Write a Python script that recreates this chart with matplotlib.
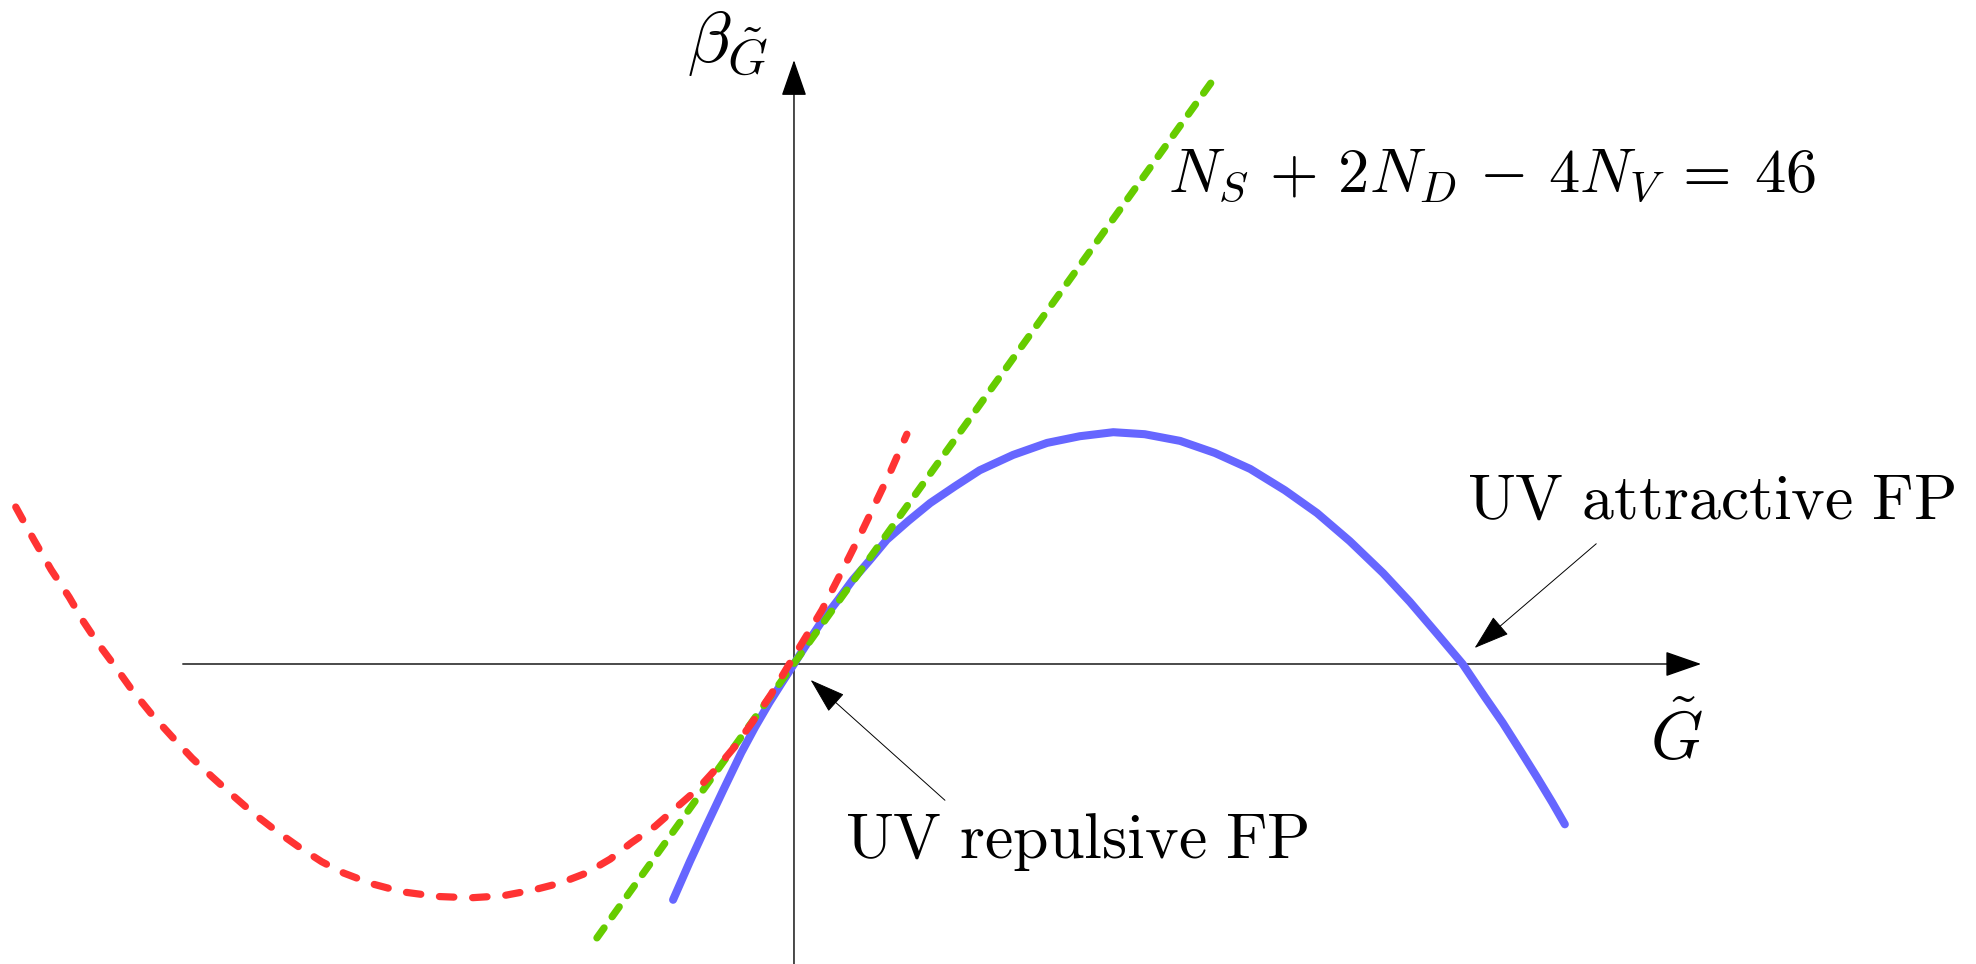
import matplotlib
matplotlib.use('Agg')
import matplotlib.pyplot as plt

plt.rcParams['mathtext.fontset'] = 'cm'

# G~ in units of the UV attractive fixed point (same scale on both axes)
# full beta function (solid blue)
beta_g = [-0.181, -0.156, -0.132, -0.106, -0.079, -0.058, -0.037, -0.018, 0.0, 0.021,
          0.043, 0.066, 0.088, 0.114, 0.139, 0.171, 0.204, 0.241, 0.278, 0.328,
          0.379, 0.428, 0.478, 0.525, 0.578, 0.630, 0.683, 0.735, 0.783, 0.832,
          0.882, 0.922, 0.963, 1.001, 1.034, 1.061, 1.087, 1.112, 1.135, 1.154]
beta_v = [-0.353, -0.296, -0.244, -0.189, -0.133, -0.094, -0.058, -0.028, 0.0, 0.033,
          0.066, 0.096, 0.126, 0.156, 0.186, 0.214, 0.241, 0.266, 0.290, 0.313,
          0.331, 0.341, 0.347, 0.344, 0.334, 0.316, 0.292, 0.260, 0.226, 0.184,
          0.136, 0.093, 0.045, 0.0, -0.049, -0.088, -0.129, -0.169, -0.207, -0.240]

# linear approximation, N_S + 2N_D - 4N_V = 46 (green dashed)
lin_g = [-0.295, 0.635]
lin_v = [-0.410, 0.885]

# red dashed approximation
red_g = [-1.165, -1.138, -1.112, -1.085, -1.064, -1.042, -1.016, -0.991, -0.961, -0.931,
         -0.901, -0.871, -0.841, -0.810, -0.775, -0.741, -0.707, -0.674, -0.632, -0.587,
         -0.534, -0.484, -0.436, -0.389, -0.350, -0.311, -0.275, -0.244, -0.208, -0.175,
         -0.144, -0.114, -0.088, -0.063, -0.034, -0.007, 0.021, 0.042, 0.061, 0.082,
         0.102, 0.123, 0.144, 0.169]
red_v = [0.235, 0.186, 0.141, 0.100, 0.064, 0.031, -0.004, -0.039, -0.076, -0.109,
         -0.141, -0.169, -0.196, -0.223, -0.250, -0.274, -0.296, -0.313, -0.329, -0.341,
         -0.348, -0.350, -0.347, -0.338, -0.328, -0.313, -0.292, -0.268, -0.243, -0.214,
         -0.187, -0.154, -0.123, -0.088, -0.045, 0.0, 0.046, 0.081, 0.118, 0.159,
         0.199, 0.243, 0.287, 0.344]

fig = plt.figure(figsize=(19.76, 9.64), dpi=100)
ax = fig.add_axes([0, 0, 1, 1])
ax.set_xlim(-1.1886, 1.7695)
ax.set_ylim(-0.4491, 0.9940)
ax.axis('off')

# coordinate axes with arrow heads
axis_style = dict(arrowstyle='-|>,head_length=2.3,head_width=0.8', color='black',
                  lw=1.0, shrinkA=0, shrinkB=0, mutation_scale=10)
ax.annotate('', xy=(1.358, 0), xytext=(-0.915, 0), arrowprops=axis_style)
ax.annotate('', xy=(0, 0.904), xytext=(0, -0.449), arrowprops=axis_style)

ax.plot(beta_g, beta_v, color='#6666ff', lw=5.8, solid_capstyle='round',
        solid_joinstyle='round', zorder=3)
ax.plot(lin_g, lin_v, color='#66cc00', lw=5.2, dashes=(1.7, 1.9),
        dash_capstyle='round', zorder=4)
ax.plot(red_g, red_v, color='#ff3333', lw=5.2, dashes=(2.0, 2.6),
        dash_capstyle='round', dash_joinstyle='round', zorder=5)

# labels
ax.text(-0.160, 0.901, r'$\beta_{\tilde{G}}$', fontsize=52, ha='left', va='baseline')
ax.text(1.281, -0.144, r'$\tilde{G}$', fontsize=48, ha='left', va='baseline')
ax.text(0.560, 0.707, r'$N_S\,+\,2N_D\,-\,4N_V\:=\:46$', fontsize=45,
        ha='left', va='baseline')

ann_style = dict(arrowstyle='-|>,head_length=2.3,head_width=0.75', color='black',
                 lw=0.7, shrinkA=0, shrinkB=0, mutation_scale=10)
ax.text(0.076, -0.290, r'$\mathrm{UV\ repulsive\ FP}$', fontsize=46,
        ha='left', va='baseline')
ax.annotate('', xy=(0.025, -0.024), xytext=(0.226, -0.204), arrowprops=ann_style)
ax.text(1.007, 0.217, r'$\mathrm{UV\ attractive\ FP}$', fontsize=46,
        ha='left', va='baseline')
ax.annotate('', xy=(1.019, 0.024), xytext=(1.201, 0.180), arrowprops=ann_style)

fig.savefig('out.png', dpi=100, facecolor='white')
